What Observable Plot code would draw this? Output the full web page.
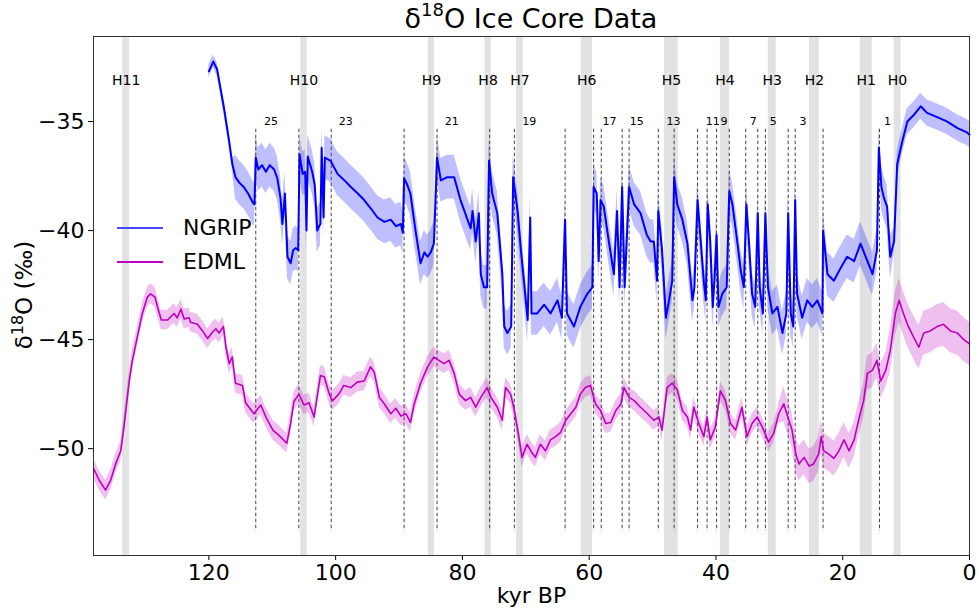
<!DOCTYPE html>
<html><head><meta charset="utf-8">
<script src="https://cdn.jsdelivr.net/npm/d3@7"></script>
<script src="https://cdn.jsdelivr.net/npm/@observablehq/plot@0.6"></script>
<style>
body{margin:0;background:#fff;font-family:"DejaVu Sans",sans-serif;}
#wrap{position:relative;width:979px;height:611px;overflow:hidden;}
#title{height:30px;line-height:38px;font-size:27px;text-align:center;padding-left:93px;padding-right:10px;color:#000;white-space:nowrap;}
#title sup{font-size:18px;line-height:0;position:relative;top:-2px;}
#ylab{position:absolute;left:24px;top:295px;transform:translate(-50%,-50%) rotate(-90deg);font-size:23px;line-height:1;white-space:nowrap;color:#000;}
#ylab sup{font-size:16px;line-height:0;}
.legline{position:absolute;left:117px;width:46px;height:2px;}
.legtext{position:absolute;left:183px;font-size:22px;line-height:26px;color:#000;}
</style></head><body>
<div id="wrap">
<div id="title">δ<sup>18</sup>O Ice Core Data</div>
<div id="chart"></div>
<div id="ylab">δ<sup>18</sup>O (‰)</div>
<div class="legline" style="top:227px;background:#4646ff"></div>
<div class="legtext" style="top:215px">NGRIP</div>
<div class="legline" style="top:261px;background:#c000c0"></div>
<div class="legtext" style="top:249px">EDML</div>
</div>
<script>
// NGRIP δ18O [kyr BP, ‰]
const ngrip = [
[120.0,-32.7],[119.3,-32.25],[118.7,-32.6],[117.6,-34.4],[116.8,-35.9],[116.3,-36.95],[115.8,-37.55],[115.2,-37.8],
[114.5,-38.0],[113.8,-38.3],[113.1,-38.7],[112.8,-38.8],[112.6,-36.65],[112.2,-37.2],[111.6,-37.0],[111.0,-37.3],
[110.4,-37.0],[109.7,-37.2],[109.2,-37.6],[108.7,-38.5],[108.4,-39.7],[108.0,-38.3],[107.6,-41.2],[107.1,-41.5],
[106.7,-40.9],[106.3,-40.8],[105.9,-40.9],[105.7,-36.5],[105.2,-37.4],[104.8,-37.3],[104.6,-40.0],[104.4,-36.6],
[103.7,-37.3],[103.3,-37.9],[102.9,-40.0],[102.6,-39.8],[102.4,-39.7],[102.2,-36.2],[101.9,-39.4],[101.7,-36.65],
[100.8,-36.8],[99.7,-37.4],[98.6,-37.7],[97.6,-38.0],[96.5,-38.3],[95.5,-38.6],[94.4,-39.0],[93.4,-39.4],
[92.3,-39.6],[91.3,-39.5],[90.5,-39.8],[89.7,-39.7],[89.4,-40.1],[89.2,-37.6],[88.7,-37.9],[88.2,-38.3],
[87.4,-40.0],[86.6,-41.5],[86.0,-41.0],[85.5,-41.2],[85.0,-41.0],[84.5,-40.6],[84.2,-38.3],[84.0,-36.65],
[83.4,-37.7],[82.4,-37.55],[81.3,-37.55],[80.3,-38.6],[79.2,-39.5],[78.7,-39.9],[78.4,-39.1],[77.9,-40.5],
[77.4,-39.2],[77.1,-42.0],[76.6,-42.6],[76.1,-42.6],[75.8,-36.8],[75.3,-38.3],[74.5,-39.2],[73.7,-42.0],
[73.4,-44.4],[72.9,-44.7],[72.3,-44.4],[72.0,-37.55],[71.3,-39.1],[70.8,-40.8],[70.0,-43.2],[69.7,-44.1],
[69.3,-39.4],[69.1,-43.8],[68.2,-43.8],[67.1,-43.4],[66.1,-43.8],[65.0,-43.2],[64.3,-44.0],[63.8,-39.5],
[63.5,-43.8],[62.4,-44.4],[61.4,-43.5],[60.3,-42.9],[59.5,-42.6],[59.3,-38.0],[58.8,-38.3],[58.5,-41.4],
[58.2,-38.6],[57.7,-38.9],[56.9,-40.5],[56.1,-42.0],[55.6,-39.1],[55.2,-42.6],[54.8,-38.0],[54.4,-42.6],
[53.7,-38.0],[52.9,-38.8],[51.9,-39.2],[50.9,-40.2],[50.3,-40.5],[49.8,-40.5],[49.3,-42.3],[49.1,-39.1],
[48.5,-40.9],[47.9,-44.0],[47.4,-43.2],[46.9,-42.3],[46.6,-37.55],[46.1,-38.8],[45.3,-39.5],[44.5,-40.6],
[43.7,-43.2],[43.4,-42.6],[42.9,-38.6],[42.4,-40.5],[41.9,-42.4],[41.6,-43.2],[41.3,-38.8],[40.9,-40.5],
[40.5,-43.5],[40.2,-42.1],[39.9,-40.2],[39.6,-43.5],[39.0,-42.9],[38.3,-42.6],[37.9,-38.2],[37.4,-38.8],
[36.6,-40.6],[36.1,-41.8],[35.6,-42.6],[35.2,-38.8],[34.8,-40.5],[34.3,-42.9],[33.8,-43.5],[33.4,-39.2],
[33.1,-42.6],[32.6,-43.8],[32.2,-39.2],[31.8,-42.6],[31.1,-43.8],[30.3,-43.5],[29.5,-44.7],[28.9,-43.8],
[28.6,-39.2],[28.2,-43.8],[27.8,-44.4],[27.5,-38.6],[27.2,-42.9],[26.4,-44.0],[25.6,-43.2],[24.8,-43.5],
[24.0,-43.2],[23.2,-43.8],[23.1,-40.0],[22.4,-42.0],[21.4,-42.3],[20.3,-41.7],[19.3,-41.2],[18.2,-41.4],
[17.2,-40.6],[16.1,-41.4],[15.3,-42.0],[14.6,-40.9],[14.3,-36.2],[13.9,-38.0],[13.5,-38.5],[13.0,-38.9],
[12.5,-41.2],[11.9,-40.5],[11.4,-36.95],[10.6,-35.9],[9.8,-35.0],[8.8,-34.7],[7.7,-34.3],[6.7,-34.6],
[5.1,-34.8],[3.5,-35.0],[1.9,-35.3],[0.4,-35.5],[0.0,-35.6]
];
// NGRIP spread half-width by age segment [from, to, ‰]
const ngripSpread = [[121,116,0.3],[116,12,1.0],[12,0,0.6]];

// EDML δ18O [kyr BP, ‰]
const edml = [
[138.2,-50.9],[137.3,-51.45],[136.3,-51.9],[135.5,-51.45],[134.7,-50.7],[133.9,-50.1],[133.4,-49.0],[132.6,-47.0],
[132.1,-46.0],[131.3,-44.9],[130.5,-43.8],[129.7,-43.05],[129.2,-42.9],[128.5,-43.05],[128.1,-43.5],[127.5,-44.1],
[126.5,-44.1],[125.5,-43.8],[125.0,-44.0],[124.4,-43.6],[123.9,-44.05],[123.1,-44.0],[122.9,-44.2],[121.8,-44.3],
[121.0,-44.6],[120.2,-44.95],[119.4,-44.65],[118.9,-44.5],[118.4,-44.7],[117.7,-44.4],[117.3,-45.35],[116.8,-46.1],
[116.3,-45.8],[115.8,-47.0],[114.7,-47.1],[114.2,-47.9],[112.9,-48.4],[111.8,-48.0],[111.0,-48.55],[109.9,-49.15],
[108.9,-49.4],[107.7,-49.75],[107.1,-48.85],[106.6,-47.85],[105.8,-47.5],[105.0,-48.0],[104.2,-47.9],[103.4,-48.55],
[102.9,-47.6],[102.4,-46.65],[101.8,-46.7],[101.0,-47.5],[100.5,-47.8],[99.5,-47.5],[98.7,-47.1],[97.6,-47.2],
[96.6,-46.95],[95.5,-46.9],[94.5,-46.25],[93.9,-46.5],[93.1,-47.65],[92.3,-47.95],[91.3,-48.4],[90.5,-48.15],
[89.7,-48.5],[88.9,-48.4],[88.2,-48.8],[87.6,-47.95],[86.6,-47.0],[85.5,-46.25],[84.5,-45.8],[83.7,-45.95],
[82.9,-46.1],[82.1,-45.95],[81.3,-46.55],[80.5,-47.5],[79.5,-47.8],[78.7,-47.65],[77.9,-48.1],[77.1,-47.65],
[76.1,-47.2],[75.5,-47.65],[74.5,-48.1],[73.7,-48.7],[73.2,-47.2],[72.4,-47.5],[71.9,-48.1],[71.1,-49.45],
[70.6,-50.4],[69.8,-49.8],[69.0,-50.2],[68.5,-50.4],[67.7,-49.8],[66.9,-50.1],[66.1,-49.6],[65.3,-49.45],
[64.5,-49.25],[63.7,-48.7],[62.9,-48.4],[62.1,-48.1],[61.4,-47.5],[60.6,-47.2],[59.8,-47.1],[59.0,-47.95],
[58.2,-48.25],[57.4,-48.85],[56.6,-48.8],[55.8,-48.25],[55.0,-47.95],[54.5,-47.2],[53.7,-47.65],[52.9,-47.8],
[51.9,-48.1],[50.8,-48.4],[49.8,-48.7],[49.0,-48.55],[48.5,-49.15],[47.7,-47.2],[46.9,-47.0],[46.1,-47.3],
[45.3,-48.25],[44.5,-48.55],[44.0,-49.15],[43.5,-48.1],[42.7,-48.85],[41.9,-49.45],[41.4,-48.55],[40.9,-49.6],
[40.1,-49.0],[39.3,-47.35],[38.5,-47.8],[37.7,-48.85],[36.9,-49.15],[35.9,-48.1],[35.1,-49.45],[34.3,-48.85],
[33.5,-48.55],[32.7,-49.0],[31.7,-49.7],[30.9,-49.3],[30.1,-48.4],[29.3,-47.95],[28.5,-48.7],[28.0,-49.15],
[27.4,-50.25],[26.9,-50.7],[26.1,-50.4],[25.3,-50.8],[24.6,-50.7],[23.8,-50.25],[23.4,-49.45],[23.0,-50.1],
[22.2,-50.25],[21.4,-50.45],[20.6,-50.1],[19.8,-49.6],[19.0,-50.1],[18.2,-49.6],[17.5,-48.7],[16.7,-47.8],
[16.1,-46.55],[15.3,-46.4],[14.6,-45.95],[14.0,-46.9],[13.2,-46.4],[12.5,-45.5],[11.7,-43.8],[11.1,-43.2],
[10.6,-43.65],[9.8,-44.3],[8.8,-44.9],[8.0,-45.35],[7.2,-44.7],[6.2,-44.6],[5.1,-44.4],[4.1,-44.3],
[3.0,-44.6],[1.9,-44.7],[0.9,-45.0],[0.0,-45.2]
];
const edmlSpread = [[139,30,0.45],[30,13,0.8],[13,0,1.0]];

// Heinrich events: name, start, end (kyr BP)
const hNames = ["H11","H10","H9","H8","H7","H6","H5","H4","H3","H2","H1","H0"];
const hStart = [133.6,105.5,85.4,76.45,71.45,61.25,48.1,39.3,31.75,25.25,17.25,11.9];
const hEnd   = [132.5,104.5,84.4,75.45,70.4,59.5,45.95,37.85,30.5,23.7,15.35,10.8];

// Dansgaard–Oeschger onsets (kyr BP)
const doAges = [112.6,105.8,100.7,89.2,84.0,75.7,71.8,63.8,59.3,58.1,54.8,53.7,49.1,46.6,42.9,41.4,39.9,37.9,35.3,33.4,32.2,28.6,27.5,23.1,14.2];
const doLabels = ["25","23","21","19","17","15","13","11","9","7","5","3","1"];
const doLabelAt = [111.3,99.5,82.8,70.55,57.9,53.6,47.8,41.6,39.3,34.65,31.5,26.8,13.5];

const xTicks = [120,100,80,60,40,20,0];
const yTicks = [-35,-40,-45,-50];

function spreadAt(seg, age){ for (const s of seg) if (age <= s[0] && age >= s[1]) return s[2]; return seg[seg.length-1][2]; }
const ngripData = ngrip.map(([a,v]) => ({a, v, e: spreadAt(ngripSpread, a)}));
const edmlData = edml.map(([a,v]) => ({a, v, e: spreadAt(edmlSpread, a)}));
const hData = hNames.map((n,i) => ({n, s: hStart[i], e: hEnd[i], m: (hStart[i]+hEnd[i])/2}));
const doLab = doLabels.map((t,i) => ({t, a: doLabelAt[i]}));

const chart = Plot.plot({
  width: 979, height: 581,
  marginTop: 6, marginBottom: 56, marginLeft: 93, marginRight: 10,
  style: {fontFamily: "DejaVu Sans", fontSize: "22px", color: "#000", background: "#fff"},
  x: {domain: [138.2, 0], ticks: xTicks, tickFormat: d3.format("d"), tickSize: 5, label: "kyr BP", labelAnchor: "center", labelOffset: 47, labelArrow: "none"},
  y: {domain: [-54.9, -31.1], ticks: yTicks, tickFormat: d3.format("d"), tickSize: 5, label: null},
  marks: [
    Plot.rect(hData, {x1: "s", x2: "e", fill: "#e2e2e2"}),
    Plot.areaY(ngripData, {x: "a", y1: d => d.v - d.e, y2: d => d.v + d.e, fill: "#0000ff", fillOpacity: 0.25}),
    Plot.areaY(edmlData, {x: "a", y1: d => d.v - d.e, y2: d => d.v + d.e, fill: "#bf00bf", fillOpacity: 0.25}),
    Plot.ruleX(doAges, {x: d => d, y1: -35.35, y2: -53.8, stroke: "#444", strokeWidth: 1, strokeDasharray: "3.5,2.5"}),
    Plot.line(ngripData, {x: "a", y: "v", stroke: "#0000ff", strokeWidth: 2}),
    Plot.line(edmlData, {x: "a", y: "v", stroke: "#bf00bf", strokeWidth: 1.6}),
    Plot.text(hData, {x: "m", y: () => -33.1, text: "n", fontSize: 14, fill: "#000"}),
    Plot.text(doLab, {x: "a", y: () => -35.0, text: "t", fontSize: 11, textAnchor: "start", fill: "#000"}),
    Plot.frame({stroke: "#333", strokeWidth: 1})
  ]
});
document.getElementById("chart").appendChild(chart);
</script>
</body></html>
